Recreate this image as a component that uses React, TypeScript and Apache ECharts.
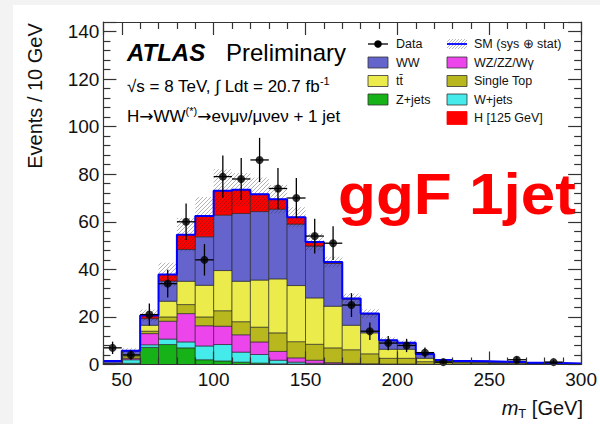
import React, { useEffect, useRef } from "react";
import * as echarts from "echarts";

const FONT = "'Liberation Sans', Arial, Helvetica, sans-serif";

// ---- data (events per 10 GeV bin) ----
const binEdges = [40, 50, 60, 70, 80, 90, 100, 110, 120, 130, 140, 150, 160, 170, 180, 190, 200, 210, 220, 230, 240, 250, 260, 270, 280, 290, 300];
const zJets = [0.1, 0.5, 7.2, 8.4, 7.0, 2.0, 1.5, 1.0, 0.6, 0.3, 0.2, 0.1, 0.1, 0.05, 0.05, 0, 0, 0, 0, 0, 0, 0, 0, 0, 0, 0];
const wJets = [0.1, 1.5, 1.1, 2.3, 2.5, 5.8, 6.9, 4.2, 3.6, 1.5, 0.8, 0.4, 0.2, 0.1, 0.1, 0.05, 0.05, 0.05, 0, 0, 0, 0, 0, 0, 0, 0];
const dibosons = [0.1, 0.5, 4.7, 7.5, 11.9, 8.5, 7.7, 7.3, 5.3, 3.7, 1.8, 1.3, 0.5, 0.35, 0.15, 0.15, 0.15, 0.05, 0.05, 0.05, 0.05, 0.05, 0.03, 0.03, 0.03, 0.02];
const singleTop = [0.1, 0.8, 1.0, 1.8, 3.8, 3.7, 6.5, 5.5, 6.2, 7.8, 6.8, 6.7, 6.2, 5.7, 4.2, 2.4, 2.4, 1.1, 0.75, 0.65, 0.55, 0.45, 0.27, 0.27, 0.17, 0.1];
const ttbar = [0.2, 0.7, 2.5, 6.6, 9.8, 13.3, 16.9, 17.0, 19.8, 22.7, 23.6, 19.5, 17.5, 10.3, 8.8, 3.8, 3.8, 1.4, 0.4, 0.3, 0.3, 0.2, 0.3, 0.1, 0.15, 0.08];
const ww = [0.7, 1.6, 2.8, 8.5, 13.4, 20.4, 23.3, 28.5, 28.8, 29.3, 25.8, 21.8, 18.0, 11.0, 7.9, 3.7, 2.6, 1.7, 0.6, 0.4, 0.4, 0.4, 0.4, 0.3, 0.25, 0.2];
const higgs = [0.2, 0.2, 1.3, 2.7, 6.2, 8.7, 10.3, 10.0, 7.3, 4.2, 2.9, 1.7, 0.6, 0.3, 0.2, 0.1, 0.1, 0.1, 0.1, 0.1, 0.1, 0.1, 0.05, 0.05, 0.05, 0.05];
const smUnc = [0.3, 1.0, 2.5, 5.0, 7.0, 8.0, 9.0, 7.0, 7.0, 6.0, 4.2, 3.5, 2.2, 2.0, 1.8, 1.2, 1.0, 0.6, 0.4, 0.3, 0.3, 0.3, 0.3, 0.2, 0.2, 0.2];
const dataCounts = [7, 4, 21, 34, 60, 44, 79, 78, 86, 74, 70, 54, 51, 25, 14, 9, 8, 5, 1, 0, 0, 0, 2, 0, 1, 0];
const dataErr = [2.6, 2.0, 4.6, 5.8, 7.7, 6.6, 8.9, 8.8, 9.3, 8.6, 8.4, 7.3, 7.1, 5.0, 3.7, 3.0, 2.8, 2.2, 1.0, 0, 0, 0, 1.4, 0, 1.0, 0];

const processNames = ["Z+jets", "W+jets", "WZ/ZZ/Wγ", "Single Top", "tt̄", "WW", "H [125 GeV]"];
const processValues = [zJets, wJets, dibosons, singleTop, ttbar, ww, higgs];
const processColors = ["#17b217", "#45eaea", "#ec45ec", "#b8b81e", "#ebeb4b", "#6464cc", "#ff0000"];

const legendCol1 = ["Data", "WW", "tt̄", "Z+jets"];
const legendCol2 = ["SM (sys ⊕ stat)", "WZ/ZZ/Wγ", "Single Top", "W+jets", "H [125 GeV]"];

function colorOf(name: string) {
  const i = processNames.indexOf(name);
  return i >= 0 ? processColors[i] : "#000";
}

function hatchLines(x0: number, y0: number, x1: number, y1: number, s: number, stroke: string, lw: number) {
  const out: any[] = [];
  for (let c = Math.ceil((x0 + y0) / s) * s; c <= x1 + y1; c += s) {
    const xa = Math.max(x0, c - y1);
    const xb = Math.min(x1, c - y0);
    if (xb > xa) {
      out.push({ type: "line", shape: { x1: xa, y1: c - xa, x2: xb, y2: c - xb }, style: { stroke, lineWidth: lw } });
    }
  }
  return out;
}

function buildOption() {
  const nBins = binEdges.length - 1;
  const cum = new Array(nBins).fill(0);
  const stackSeries: any[] = processNames.map((name, k) => {
    const vals = processValues[k];
    const data: number[][] = [];
    for (let i = 0; i < nBins; i++) {
      const base = cum[i];
      const top = base + vals[i];
      cum[i] = top;
      data.push([binEdges[i], binEdges[i + 1], base, top]);
    }
    const color = processColors[k];
    return {
      type: "custom",
      name,
      z: 2,
      silent: true,
      data,
      encode: { x: [0, 1], y: [2, 3] },
      renderItem: (_p: any, api: any) => {
        const a = api.coord([api.value(0), api.value(3)]);
        const b = api.coord([api.value(1), api.value(2)]);
        return {
          type: "rect",
          shape: { x: a[0], y: a[1], width: b[0] - a[0], height: b[1] - a[1] },
          style: { fill: color, stroke: "#222", lineWidth: 0.6 },
        };
      },
    };
  });
  const totals = cum.slice();

  const hatchSeries = {
    type: "custom",
    name: "SM",
    z: 3,
    silent: true,
    data: totals.map((t, i) => [binEdges[i], binEdges[i + 1], Math.max(0, t - smUnc[i]), t + smUnc[i]]),
    encode: { x: [0, 1], y: [2, 3] },
    renderItem: (_p: any, api: any) => {
      const a = api.coord([api.value(0), api.value(3)]);
      const b = api.coord([api.value(1), api.value(2)]);
      return { type: "group", children: hatchLines(a[0], a[1], b[0], b[1], 4, "rgba(40,40,40,0.4)", 0.9) };
    },
  };

  const totalLine = {
    type: "line",
    name: "total",
    step: "end",
    z: 4,
    silent: true,
    symbol: "none",
    lineStyle: { color: "#0000ff", width: 2 },
    data: [...totals.map((t, i) => [binEdges[i], t]), [binEdges[nBins], totals[nBins - 1]]],
  };

  const pts: number[][] = [];
  dataCounts.forEach((n, i) => {
    if (n > 0) pts.push([(binEdges[i] + binEdges[i + 1]) / 2, n, dataErr[i], binEdges[i], binEdges[i + 1]]);
  });

  const errSeries = {
    type: "custom",
    name: "Data err",
    z: 5,
    silent: true,
    data: pts,
    encode: { x: 0, y: 1 },
    renderItem: (_p: any, api: any) => {
      const x = api.value(0), n = api.value(1), e = api.value(2);
      const lo = api.coord([x, n - e]);
      const hi = api.coord([x, n + e]);
      const l = api.coord([api.value(3), n]);
      const r = api.coord([api.value(4), n]);
      const st = { stroke: "#000", lineWidth: 1.3 };
      return {
        type: "group",
        children: [
          { type: "line", shape: { x1: lo[0], y1: lo[1], x2: hi[0], y2: hi[1] }, style: st },
          { type: "line", shape: { x1: l[0], y1: l[1], x2: r[0], y2: r[1] }, style: st },
        ],
      };
    },
  };

  const dotSeries = {
    type: "scatter",
    name: "Data",
    z: 6,
    silent: true,
    symbol: "circle",
    symbolSize: 8,
    itemStyle: { color: "#000" },
    data: pts.map((p) => [p[0], p[1]]),
  };

  const axisCol = "#333";
  const xBase = (pos: string, label: boolean) => ({
    type: "value",
    min: 40,
    max: 300,
    splitNumber: 5,
    position: pos,
    z: 10,
    axisLine: { show: true, onZero: false, lineStyle: { color: axisCol, width: 1.2 } },
    axisTick: { show: true, inside: true, length: 13, lineStyle: { color: axisCol, width: 1.2 } },
    minorTick: { show: true, splitNumber: 5, length: 7, lineStyle: { color: axisCol, width: 1.2 } },
    splitLine: { show: false },
    axisLabel: {
      show: label,
      margin: 5,
      fontSize: 19,
      color: "#111",
      fontFamily: FONT,
      showMinLabel: false,
      formatter: (v: number) => (v % 50 === 0 ? String(v) : ""),
    },
  });
  const yBase = (pos: string, label: boolean) => ({
    type: "value",
    min: 0,
    max: 144,
    interval: 20,
    position: pos,
    z: 10,
    axisLine: { show: true, onZero: false, lineStyle: { color: axisCol, width: 1.2 } },
    axisTick: { show: true, inside: true, length: 13, lineStyle: { color: axisCol, width: 1.2 } },
    minorTick: { show: true, splitNumber: 5, length: 7, lineStyle: { color: axisCol, width: 1.2 } },
    splitLine: { show: false },
    axisLabel: {
      show: label,
      margin: 4,
      fontSize: 19,
      color: "#111",
      fontFamily: FONT,
      showMaxLabel: false,
      formatter: (v: number) => (v % 20 === 0 ? String(v) : ""),
    },
  });

  // ---- graphic: background, texts, legend ----
  const g: any[] = [];
  g.push({ type: "rect", z: -10, silent: true, shape: { x: 13, y: 5, width: 587, height: 419 }, style: { fill: "#ffffff" } });

  g.push({
    type: "text", x: 35, y: 96, rotation: Math.PI / 2, silent: true,
    style: { text: "Events / 10 GeV", font: `20px ${FONT}`, fill: "#111", textAlign: "center", textVerticalAlign: "middle" },
  });
  g.push({
    type: "text", x: 583, y: 408, silent: true,
    style: {
      text: "{i|m}{s|T}{n| [GeV]}",
      textAlign: "right", textVerticalAlign: "middle",
      rich: {
        i: { fontSize: 20, fontStyle: "italic", fontFamily: FONT, fill: "#111", lineHeight: 24, verticalAlign: "middle" },
        s: { fontSize: 13, fontFamily: FONT, fill: "#111", verticalAlign: "bottom", lineHeight: 24 },
        n: { fontSize: 20, fontFamily: FONT, fill: "#111", lineHeight: 24, verticalAlign: "middle" },
      },
    },
  });

  g.push({ type: "text", x: 127, y: 52, silent: true, style: { text: "ATLAS", font: `italic bold 24px ${FONT}`, fill: "#000", textVerticalAlign: "middle" } });
  g.push({ type: "text", x: 226, y: 52, silent: true, style: { text: "Preliminary", font: `24px ${FONT}`, fill: "#000", textVerticalAlign: "middle" } });
  g.push({
    type: "text", x: 127, y: 86, silent: true,
    style: {
      text: "{n|√s = 8 TeV, ∫ Ldt = 20.7 fb}{s|-1}",
      textVerticalAlign: "middle",
      rich: {
        n: { fontSize: 17, fontFamily: FONT, fill: "#000", lineHeight: 22 },
        s: { fontSize: 11, fontFamily: FONT, fill: "#000", verticalAlign: "top", lineHeight: 22 },
      },
    },
  });
  g.push({
    type: "text", x: 127, y: 116, silent: true,
    style: {
      text: "{n|H}{a|→}{n|WW}{s|(*)}{a|→}{n|eνμν/μνeν + 1 jet}",
      textVerticalAlign: "middle",
      rich: {
        n: { fontSize: 17, fontFamily: FONT, fill: "#000", lineHeight: 22 },
        a: { fontSize: 17, fontFamily: "'DejaVu Sans', sans-serif", fill: "#000", lineHeight: 22 },
        s: { fontSize: 11, fontFamily: FONT, fill: "#000", verticalAlign: "top", lineHeight: 22 },
      },
    },
  });
  g.push({
    type: "text", x: 338, y: 194, silent: true, scaleX: 1.07,
    style: { text: "ggF 1jet", font: `bold 58px ${FONT}`, fill: "#ff0000", textVerticalAlign: "middle" },
  });

  // legend
  const rowY = [44, 62.5, 81, 99.5, 118];
  const col1Box = 368, col2Box = 447, boxW = 20, boxH = 11;
  const txt = (x: number, y: number, t: string) => ({
    type: "text", x, y, silent: true,
    style: { text: t, font: `12.5px ${FONT}`, fill: "#111", textVerticalAlign: "middle" },
  });
  legendCol1.forEach((name, r) => {
    const y = rowY[r];
    if (name === "Data") {
      g.push({ type: "line", silent: true, shape: { x1: col1Box, y1: y, x2: col1Box + boxW, y2: y }, style: { stroke: "#000", lineWidth: 1.3 } });
      g.push({ type: "circle", silent: true, shape: { cx: col1Box + boxW / 2, cy: y, r: 3.8 }, style: { fill: "#000" } });
    } else {
      g.push({ type: "rect", silent: true, shape: { x: col1Box, y: y - boxH / 2, width: boxW, height: boxH }, style: { fill: colorOf(name), stroke: "#333", lineWidth: 0.8 } });
    }
    g.push(txt(col1Box + 28, y, name));
  });
  legendCol2.forEach((name, r) => {
    const y = rowY[r];
    if (r === 0) {
      g.push({ type: "group", silent: true, children: hatchLines(col2Box, y - 5, col2Box + boxW, y + 5, 3, "rgba(60,60,60,0.4)", 0.9) });
      g.push({ type: "line", silent: true, shape: { x1: col2Box, y1: y, x2: col2Box + boxW, y2: y }, style: { stroke: "#0000ff", lineWidth: 1.8 } });
    } else {
      const h = name.startsWith("H ") ? 13 : boxH;
      g.push({ type: "rect", silent: true, shape: { x: col2Box, y: y - h / 2, width: boxW, height: h }, style: { fill: colorOf(name), stroke: name.startsWith("H ") ? "#ff0000" : "#333", lineWidth: 0.8 } });
    }
    g.push(txt(col2Box + 27, y, name));
  });

  return {
    animation: false,
    backgroundColor: "#f3f3f3",
    textStyle: { fontFamily: FONT },
    grid: { left: 103.4, right: 18.5, top: 22, bottom: 59.5, containLabel: false },
    xAxis: [xBase("bottom", true), xBase("top", false)],
    yAxis: [yBase("left", true), yBase("right", false)],
    graphic: { elements: g },
    series: [...stackSeries, hatchSeries, totalLine, errSeries, dotSeries],
  };
}

export default function App() {
  const ref = useRef<HTMLDivElement>(null);
  useEffect(() => {
    if (!ref.current) return;
    const chart = echarts.init(ref.current, undefined, { renderer: "svg" });
    chart.setOption(buildOption() as any);
    return () => chart.dispose();
  }, []);
  return <div ref={ref} style={{ position: "fixed", left: 0, top: 0, width: 600, height: 424 }} />;
}
